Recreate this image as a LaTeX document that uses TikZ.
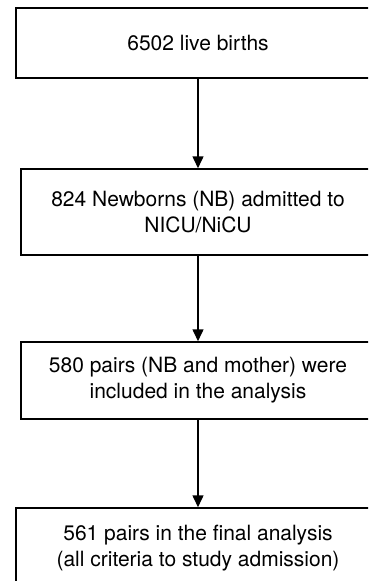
\documentclass[tikz,border=0pt]{standalone}
\usepackage{fontspec}
\setmainfont{TeX Gyre Heros}
\usepackage{tikz}
\usetikzlibrary{arrows.meta,positioning}
\tikzset{
  box/.style={draw=black, line width=1.5pt, align=center, inner sep=0pt, font=\fontsize{21}{26}\selectfont},
  widebox/.style={box, minimum width=364pt},
  narrowbox/.style={box, minimum width=354pt},
  arrow/.style={-{Triangle[length=12pt,width=11pt]}, line width=1.5pt}
}
\begin{document}
\begin{tikzpicture}[x=1pt,y=1pt]
\useasboundingbox (0,0) rectangle (368,-581);
\clip (0,0) rectangle (368,-581);
\node[widebox, minimum height=70pt] (births) at (198,-43) {6502 live births};
\node[narrowbox, minimum height=86pt] (nicu) at (198,-212) {824 Newborns (NB) admitted to\\NICU/NiCU};
\node[narrowbox, minimum height=77pt] (pairs) at (198,-380.5) {580 pairs (NB and mother) were\\included in the analysis};
\node[widebox, minimum height=80pt] (final) at (198,-548) {561 pairs in the final analysis\\(all criteria to study admission)};
\draw[arrow] (births) -- (nicu);
\draw[arrow] (nicu) -- (pairs);
\draw[arrow] (pairs) -- (final);
\end{tikzpicture}
\end{document}
